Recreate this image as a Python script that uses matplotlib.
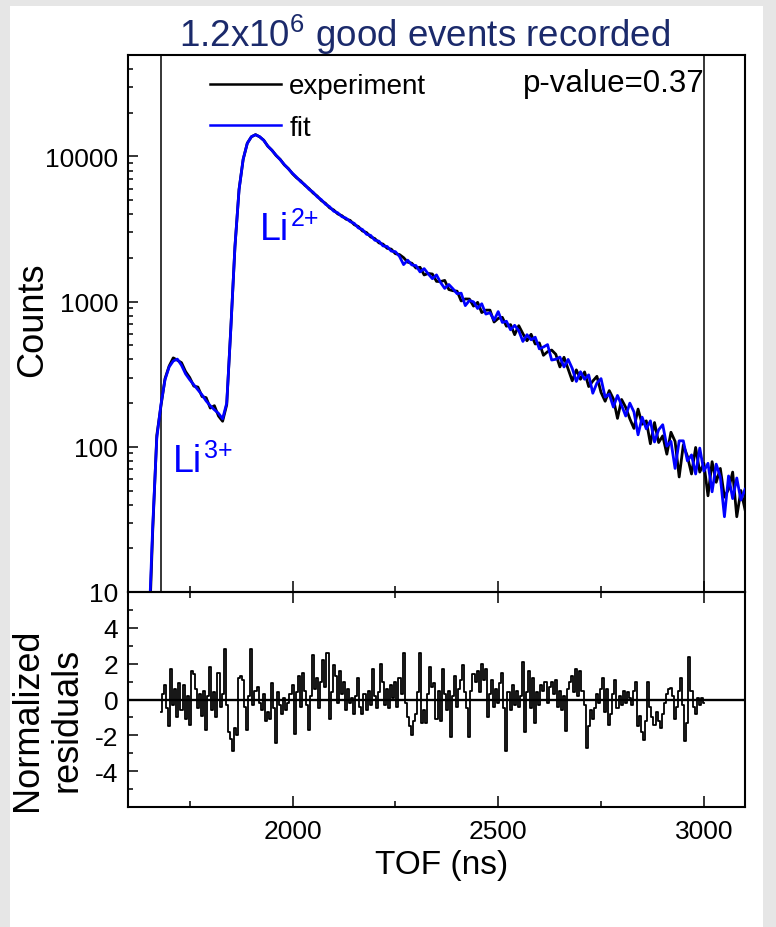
import numpy as np
import matplotlib
matplotlib.use('Agg')
import matplotlib.pyplot as plt
from matplotlib.ticker import FixedLocator, NullFormatter, LogLocator, FixedFormatter
from matplotlib.patches import Rectangle

plt.rcParams['font.family'] = ['Liberation Sans', 'DejaVu Sans']
plt.rcParams['mathtext.default'] = 'regular'
plt.rcParams['axes.unicode_minus'] = False

# ---------------- data ----------------
BIN_START = 1650   # ns, first count bin
BIN_WIDTH = 10     # ns
fit_counts = [
    5, 28, 115, 195, 290, 355, 390, 402, 365, 318,
    290, 268, 247, 228, 207, 192, 180, 170, 156, 200,
    650, 2400, 5900, 9600, 12300, 13700, 14100, 13700, 12900, 11800,
    11000, 10200, 9500, 8800, 8200, 7650, 7190, 6700, 6390, 5940,
    5680, 5270, 5040, 4690, 4510, 4200, 4090, 3850, 3760, 3560,
    3460, 3220, 3140, 2910, 2860, 2650, 2610, 2420, 2400, 2230,
    2210, 2050, 1800, 1930, 1790, 1772, 1603, 1689, 1552, 1439,
    1528, 1353, 1234, 1313, 1226, 1135, 1144, 939, 1019, 997,
    897, 967, 821, 839, 745, 854, 719, 733, 640, 687,
    631, 532, 592, 546, 569, 473, 487, 506, 396, 401,
    415, 355, 400, 347, 282, 329, 292, 313, 234, 275,
    295, 220, 231, 188, 226, 193, 163, 200, 174, 121,
    160, 133, 151, 108, 131, 142, 101, 109, 71, 110,
    110, 80, 88, 65, 98, 68, 77, 49, 76, 62,
    33, 63, 44, 61, 43, 51,
]
exp_counts = [
    4, 26, 120, 190, 295, 360, 410, 395, 380, 330,
    300, 262, 258, 222, 218, 185, 192, 163, 150, 195,
    660, 2380, 5950, 9550, 12350, 13650, 14150, 13650, 12950, 11750,
    11050, 10150, 9550, 8750, 8250, 7600, 7120, 6790, 6330, 6010,
    5600, 5340, 4970, 4760, 4430, 4280, 4020, 3910, 3700, 3630,
    3390, 3290, 3070, 2990, 2790, 2720, 2540, 2490, 2330, 2300,
    2140, 2110, 2010, 1870, 1840, 1704, 1725, 1527, 1564, 1550,
    1379, 1376, 1401, 1212, 1189, 1181, 1011, 1044, 1042, 932,
    989, 841, 874, 874, 724, 766, 780, 677, 695, 592,
    683, 602, 538, 596, 511, 520, 427, 452, 464, 434,
    355, 414, 344, 285, 339, 292, 328, 260, 284, 306,
    237, 206, 244, 214, 157, 212, 187, 156, 134, 182,
    143, 151, 105, 147, 107, 119, 89, 126, 109, 62,
    103, 86, 65, 99, 67, 77, 46, 79, 57, 71,
    45, 51, 67, 33, 50, 37,
]

RES_START = 1680   # ns, first residual bin
RES_WIDTH = 5      # ns
residuals = [
    -0.7, 0.3, 0.8, -0.5, -1.5, 1.7, -0.3, 0.6, -1.0, 0.9,
    -0.6, 0.8, -1.1, 0.2, -1.4, 1.6, 1.4, 0.6, -0.5, 0.3,
    -0.9, 0.5, -1.7, 0.2, 1.8, -0.6, 0.4, -1.0, 1.5, -0.4,
    0.3, 2.8, -0.3, -1.8, -2.2, -2.9, -1.6, -2.0, 1.2, 1.3,
    1.1, -0.4, -1.7, 0.2, 2.8, -0.3, 0.5, 0.7, -0.2, -0.6,
    0.3, -1.2, -0.7, -1.1, 0.9, -0.5, -2.4, 0.4, -0.3, -0.8,
    0.1, -0.6, -0.2, 0.3, 0.8, -1.9, 0.4, 1.3, -0.4, 1.5,
    0.5, -0.3, -1.7, 0.2, 2.5, 0.6, 1.2, -0.5, 1.0, 2.2,
    0.7, 2.6, -1.1, 0.4, 1.9, 1.3, -0.2, 1.6, 0.3, 1.0,
    -0.6, 0.6, -0.2, 0.1, -0.8, 0.2, 1.2, -0.4, -0.8, 0.3,
    -0.6, 0.5, -0.3, 1.7, 0.2, -0.5, 0.4, 2.0, 1.0, -0.3,
    0.6, -0.5, 0.8, 0.1, 1.0, -0.4, 1.2, 0.3, 2.6, -0.2,
    -1.0, -1.5, -2.0, -1.2, -0.8, 0.4, 2.6, -1.3, -0.6, -1.3,
    0.3, 1.8, 0.7, 0.9, -1.1, 0.5, -1.2, 1.7, 0.3, -0.6,
    0.5, -2.1, 0.2, 1.3, -0.4, 0.6, 1.1, 1.9, 0.4, -0.5,
    -2.1, 0.5, 1.4, 1.0, 1.6, 0.4, 2.0, 1.1, 1.7, -1.0,
    0.3, 1.1, -0.4, 0.6, -0.2, 0.9, 1.5, -0.5, -2.9, 0.4,
    -0.6, 0.8, -0.3, 0.5, -0.4, 0.2, 2.1, -1.8, 0.4, 1.6,
    -0.5, 1.2, -1.3, 0.4, -0.3, 0.8, 0.5, 1.0, -0.2, 0.7,
    1.0, 0.3, 1.1, -0.4, 0.5, -0.6, 0.2, -1.75, 0.6, 1.0,
    1.3, 0.4, 1.7, 0.2, 1.6, 0.5, -0.3, -2.7, -1.5, -0.6,
    -1.1, -0.5, 0.3, -0.2, 0.6, 1.2, -0.7, 0.6, -1.4, -0.8,
    0.3, 1.1, -0.5, 0.2, -0.3, 0.5, -0.2, 0.4, 0.1, -0.3,
    0.5, 1.0, -1.5, -0.9, -1.8, -2.25, -1.2, 1.0, -0.4, -1.0,
    -1.4, -0.7, -1.2, -1.6, -0.8, -0.2, 0.3, 0.6, 0.65, 0.2,
    -1.1, -0.4, 0.5, 1.2, -0.3, -2.3, -1.3, 2.35, 0.5, -0.4,
    -0.8, 0.1, -0.3, 0.1, -0.2,
]

fit_window = [1680, 3000]            # ns, vertical lines
count_ticks = [10, 100, 1000, 10000]
count_tick_labels = ['10', '100', '1000', '10000']
res_ticks = [-4, -2, 0, 2, 4]
res_tick_labels = ['-4', '-2', '0', '2', '4']
tof_ticks = [2000, 2500, 3000]
tof_tick_labels = ['2000', '2500', '3000']
tof_minor = [1750, 2250, 2750]
title_text = '1.2x10$^{6}$ good events recorded'
pvalue_text = 'p-value=0.37'
ion_labels = [('Li', '2+', 1920, 2717), ('Li', '3+', 1709, 68)]

tof = BIN_START + BIN_WIDTH * np.arange(len(fit_counts))
tof_res = RES_START + RES_WIDTH * np.arange(len(residuals))

# ---------------- figure ----------------
W, H = 776, 928
fig = plt.figure(figsize=(W / 100, H / 100), dpi=100)
fig.patch.set_facecolor('#e6e6e6')
fig.patches.append(Rectangle((10 / W, 0), (763 - 10) / W, 1 - 7 / H,
                             transform=fig.transFigure, facecolor='white',
                             edgecolor='none', zorder=-10))

def fx(px):
    return px / W

def fy(py):
    return 1 - py / H

L, R = 128, 745
ax1 = fig.add_axes([fx(L), fy(593), fx(R) - fx(L), fy(56) - fy(593)])
ax2 = fig.add_axes([fx(L), fy(808), fx(R) - fx(L), fy(593) - fy(808)])

BLUE = '#0000ff'
for ax in (ax1, ax2):
    ax.set_facecolor('none')
    for s in ax.spines.values():
        s.set_linewidth(1.5)
    ax.set_xlim(1600, 3100)
    ax.xaxis.set_major_locator(FixedLocator(tof_ticks))
    ax.xaxis.set_minor_locator(FixedLocator(tof_minor))
    ax.tick_params(axis='both', which='both', direction='in', width=1.1,
                   labelsize=19, pad=7)
    ax.tick_params(axis='x', which='major', length=8)
    ax.tick_params(axis='x', which='minor', length=4.3)
    ax.tick_params(axis='y', which='major', length=7)
    ax.tick_params(axis='y', which='minor', length=3.6)

# top panel
ax1.plot(tof, exp_counts, color='black', lw=2.0, label='experiment', zorder=3)
ax1.plot(tof, fit_counts, color=BLUE, lw=2.0, label='fit', zorder=4)
for t in fit_window:
    ax1.axvline(t, color='black', lw=1.1, zorder=2)
ax1.set_yscale('log')
ax1.set_ylim(10, 50000)
ax1.yaxis.set_major_locator(FixedLocator(count_ticks))
ax1.yaxis.set_major_formatter(FixedFormatter(count_tick_labels))
ax1.yaxis.set_minor_locator(LogLocator(base=10, subs=np.arange(2, 10)))
ax1.yaxis.set_minor_formatter(NullFormatter())
ax1.tick_params(axis='x', which='both', top=False, bottom=True, labelbottom=False)
ax1.tick_params(axis='y', which='both', right=False)

leg = ax1.legend(loc='upper left', bbox_to_anchor=((210 - L) / (R - L), 0.966),
                 frameon=False, fontsize=20, handlelength=2.55,
                 handletextpad=0.3, labelspacing=0.55, borderpad=0,
                 borderaxespad=0)
for line in leg.get_lines():
    line.set_linewidth(1.8)

ax1.text((523 - L) / (R - L), 1 - (84 - 56) / (593 - 56), pvalue_text,
         transform=ax1.transAxes, fontsize=22.5, ha='left', va='center')

for base, sup, tx, cy in ion_labels:
    ax1.text(tx, cy, base, color=BLUE, fontsize=27, ha='left', va='baseline')
    ax1.annotate(sup, xy=(tx, cy), xycoords='data', xytext=(31, 14),
                 textcoords='offset pixels', color=BLUE, fontsize=18,
                 ha='left', va='baseline')

# bottom panel
ax2.step(tof_res, residuals, where='mid', color='black', lw=1.3, zorder=3)
ax2.axhline(0, color='black', lw=1.7, zorder=2)
ax2.set_ylim(-6, 6)
ax2.yaxis.set_major_locator(FixedLocator(res_ticks))
ax2.yaxis.set_major_formatter(FixedFormatter(res_tick_labels))
ax2.yaxis.set_minor_locator(FixedLocator([-5, -3, -1, 1, 3, 5]))
ax2.xaxis.set_major_formatter(FixedFormatter(tof_tick_labels))
ax2.tick_params(axis='x', which='both', top=True, bottom=True)
ax2.tick_params(axis='y', which='both', right=False)
ax2.tick_params(axis='x', which='major', pad=9)

# labels and title
fig.text(fx(425), fy(47), title_text, color='#1b2a6b', fontsize=26.5,
         ha='center', va='baseline')
fig.text(fx(33), fy(320), 'Counts', fontsize=26, rotation=90,
         ha='center', va='center')
fig.text(fx(47), fy(720), 'Normalized\nresiduals', fontsize=26, rotation=90,
         ha='center', va='center', multialignment='center', linespacing=1.15)
fig.text(fx(442), fy(866), 'TOF (ns)', fontsize=24, ha='center', va='center')

fig.savefig('out.png', dpi=100, facecolor=fig.get_facecolor())
